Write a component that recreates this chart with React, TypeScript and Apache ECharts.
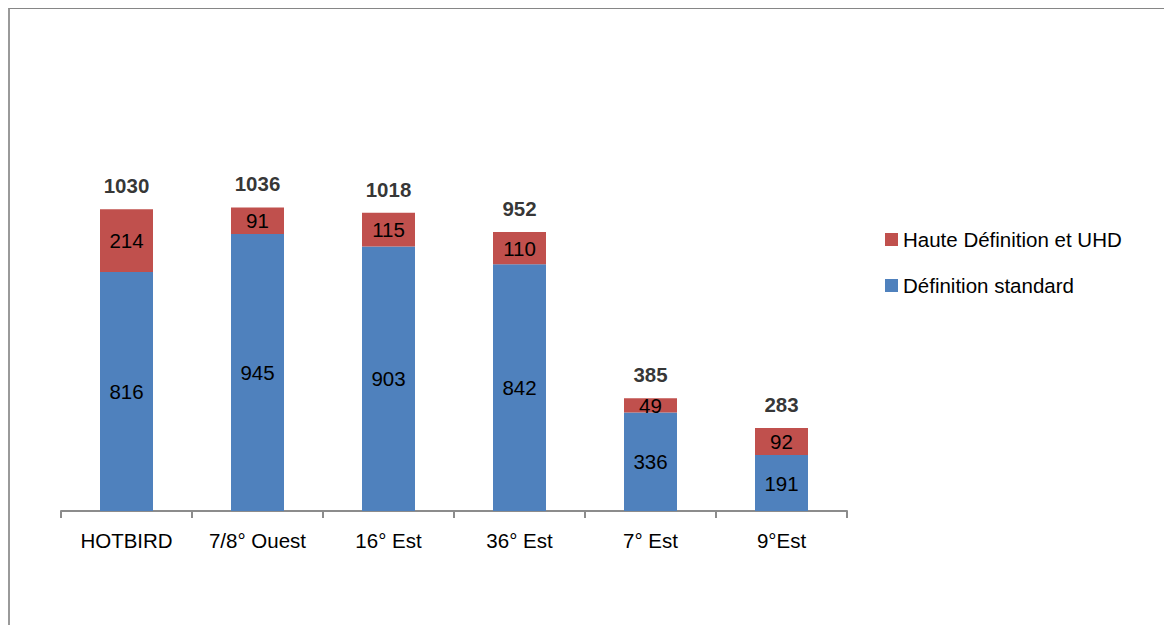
import React, { useEffect, useRef } from "react";
import * as echarts from "echarts";

const categories = ["HOTBIRD", "7/8° Ouest", "16° Est", "36° Est", "7° Est", "9°Est"];
const standardDef = [816, 945, 903, 842, 336, 191];
const highDef = [214, 91, 115, 110, 49, 92];
const totals = standardDef.map((v, i) => v + highDef[i]);

const FONT = "'Liberation Sans', Arial, sans-serif";
const FS = 20.5;

export default function App() {
  const ref = useRef<HTMLDivElement>(null);
  useEffect(() => {
    if (!ref.current) return;
    const chart = echarts.init(ref.current, undefined, { renderer: "svg" });
    chart.setOption({
      animation: false,
      backgroundColor: "#ffffff",
      textStyle: { fontFamily: FONT },
      grid: { left: 51, right: 325, top: 150.4, bottom: 114, containLabel: false },
      legend: {
        orient: "vertical",
        left: 870,
        top: 215,
        itemWidth: 13,
        itemHeight: 13,
        itemGap: 25,
        icon: "rect",
        data: ["Haute Définition et UHD", "Définition standard"],
        textStyle: { fontFamily: FONT, fontSize: FS, color: "#000" },
      },
      xAxis: {
        type: "category",
        data: categories,
        axisLine: { show: true, lineStyle: { color: "#8c8c8c", width: 2 } },
        axisTick: { show: true, length: 7, alignWithLabel: false, lineStyle: { color: "#8c8c8c", width: 2 } },
        axisLabel: { fontFamily: FONT, fontSize: FS, color: "#000", margin: 19, interval: 0 },
      },
      yAxis: {
        type: "value",
        min: 0,
        max: 1200,
        show: false,
        splitLine: { show: false },
      },
      series: [
        {
          name: "Définition standard",
          type: "bar",
          stack: "total",
          barWidth: 53,
          data: standardDef,
          itemStyle: { color: "#4F81BD" },
          label: { show: true, position: "inside", fontFamily: FONT, fontSize: FS, color: "#000" },
        },
        {
          name: "Haute Définition et UHD",
          type: "bar",
          stack: "total",
          barWidth: 53,
          data: highDef,
          itemStyle: { color: "#C0504D" },
          label: { show: true, position: "inside", fontFamily: FONT, fontSize: FS, color: "#000" },
        },
        {
          name: "Total",
          type: "scatter",
          data: totals,
          symbolSize: 0,
          silent: true,
          label: {
            show: true,
            position: "top",
            distance: 13,
            fontFamily: FONT,
            fontSize: FS,
            fontWeight: "bold",
            color: "#000",
          },
        },
      ],
    });
    return () => chart.dispose();
  }, []);

  return (
    <div
      style={{
        width: 1164,
        height: 617,
        boxSizing: "border-box",
        borderTop: "1px solid #868686",
        borderLeft: "2px solid #9a9a9a",
        overflow: "hidden",
      }}
    >
      <div ref={ref} style={{ width: 1162, height: 616 }} />
    </div>
  );
}
